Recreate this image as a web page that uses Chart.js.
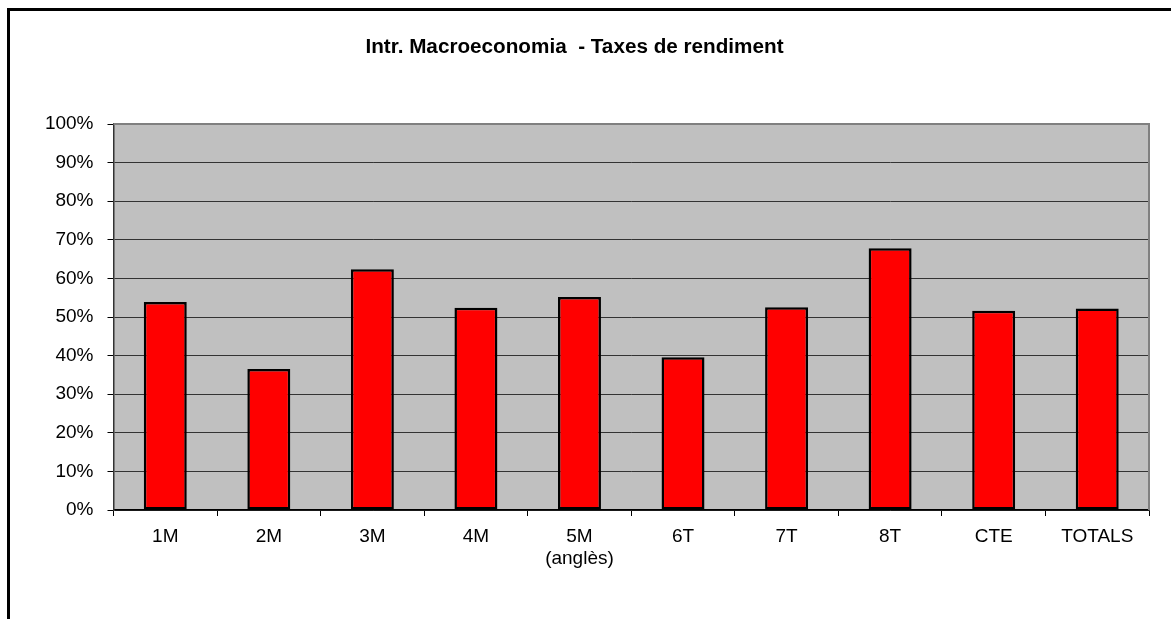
<!DOCTYPE html>
<html>
<head>
<meta charset="utf-8">
<title>Intr. Macroeconomia - Taxes de rendiment</title>
<script src="https://cdn.jsdelivr.net/npm/chart.js@4.4.1/dist/chart.umd.min.js"></script>
<style>
  html, body { margin: 0; padding: 0; background: #fff; }
  #wrap { width: 1171px; height: 619px; position: relative; }
</style>
</head>
<body>
<div id="wrap"><canvas id="myChart" width="1171" height="619"></canvas></div>
<script>
// Dades del gràfic
const grups = ['1M', '2M', '3M', '4M', ['5M', '(anglès)'], '6T', '7T', '8T', 'CTE', 'TOTALS'];
const taxes = [53.9, 36.5, 62.4, 52.4, 55.2, 39.6, 52.5, 67.8, 51.6, 52.2];
const etiquetesY = ['0%', '10%', '20%', '30%', '40%', '50%', '60%', '70%', '80%', '90%', '100%'];
const titol = 'Intr. Macroeconomia  - Taxes de rendiment';

// Fons gris de l'àrea i marc exterior
const fonsPlugin = {
    id: 'fons',
    beforeDraw(chart) {
        const ctx = chart.ctx;
        const a = chart.chartArea;
        ctx.save();
        ctx.fillStyle = '#000';
        ctx.fillRect(7, 8, 3, 611);
        ctx.fillRect(7, 8, 1164, 3);
        ctx.fillStyle = '#c0c0c0';
        ctx.fillRect(a.left, a.top, a.right - a.left, a.bottom - a.top);
        ctx.restore();
    },
    afterDatasetsDraw(chart) {
        const ctx = chart.ctx;
        const a = chart.chartArea;
        ctx.save();
        ctx.strokeStyle = '#808080';
        ctx.lineWidth = 2;
        ctx.beginPath();
        ctx.moveTo(a.left, a.top);
        ctx.lineTo(a.right, a.top);
        ctx.lineTo(a.right, a.bottom);
        ctx.stroke();
        ctx.restore();
    }
};

function dibuixaGrafic() {
    const ctx = document.getElementById('myChart').getContext('2d');
    new Chart(ctx, {
        type: 'bar',
        data: {
            labels: grups,
            datasets: [{
                label: 'Taxa de rendiment',
                data: taxes,
                backgroundColor: '#ff0000',
                borderColor: '#000000',
                borderWidth: 2.5,
                borderSkipped: false,
                barPercentage: 0.415,
                categoryPercentage: 1.0
            }]
        },
        options: {
            responsive: false,
            animation: false,
            layout: { padding: { left: 0, right: 22, top: 0, bottom: 0 } },
            plugins: {
                legend: { display: false },
                tooltip: { enabled: false },
                title: {
                    display: true,
                    text: titol,
                    color: '#000',
                    font: { family: 'Liberation Sans, Arial', size: 20.7, weight: 'bold', lineHeight: 1.2 },
                    padding: { top: 35, bottom: 64.2 }
                }
            },
            scales: {
                x: {
                    grid: {
                        offset: true,
                        drawOnChartArea: false,
                        drawTicks: true,
                        tickLength: 6,
                        tickColor: '#000',
                        color: '#000'
                    },
                    border: { display: true, color: '#000', width: 1.5 },
                    ticks: {
                        color: '#000',
                        padding: 10,
                        maxRotation: 0,
                        autoSkip: false,
                        font: { family: 'Liberation Sans, Arial', size: 19, lineHeight: 1.15 }
                    },
                    afterFit(scale) { scale.height = 109; }
                },
                y: {
                    min: 0,
                    max: 100,
                    grid: {
                        color: '#333',
                        lineWidth: 1,
                        drawTicks: true,
                        tickLength: 6,
                        tickColor: '#000'
                    },
                    border: { display: true, color: '#333', width: 1.5 },
                    ticks: {
                        stepSize: 10,
                        color: '#000',
                        padding: 14,
                        font: { family: 'Liberation Sans, Arial', size: 19 },
                        callback: function(valor) { return etiquetesY[Math.round(valor / 10)]; }
                    },
                    afterFit(scale) { scale.width = 113.5; }
                }
            }
        },
        plugins: [fonsPlugin]
    });
}

dibuixaGrafic();
</script>
</body>
</html>
